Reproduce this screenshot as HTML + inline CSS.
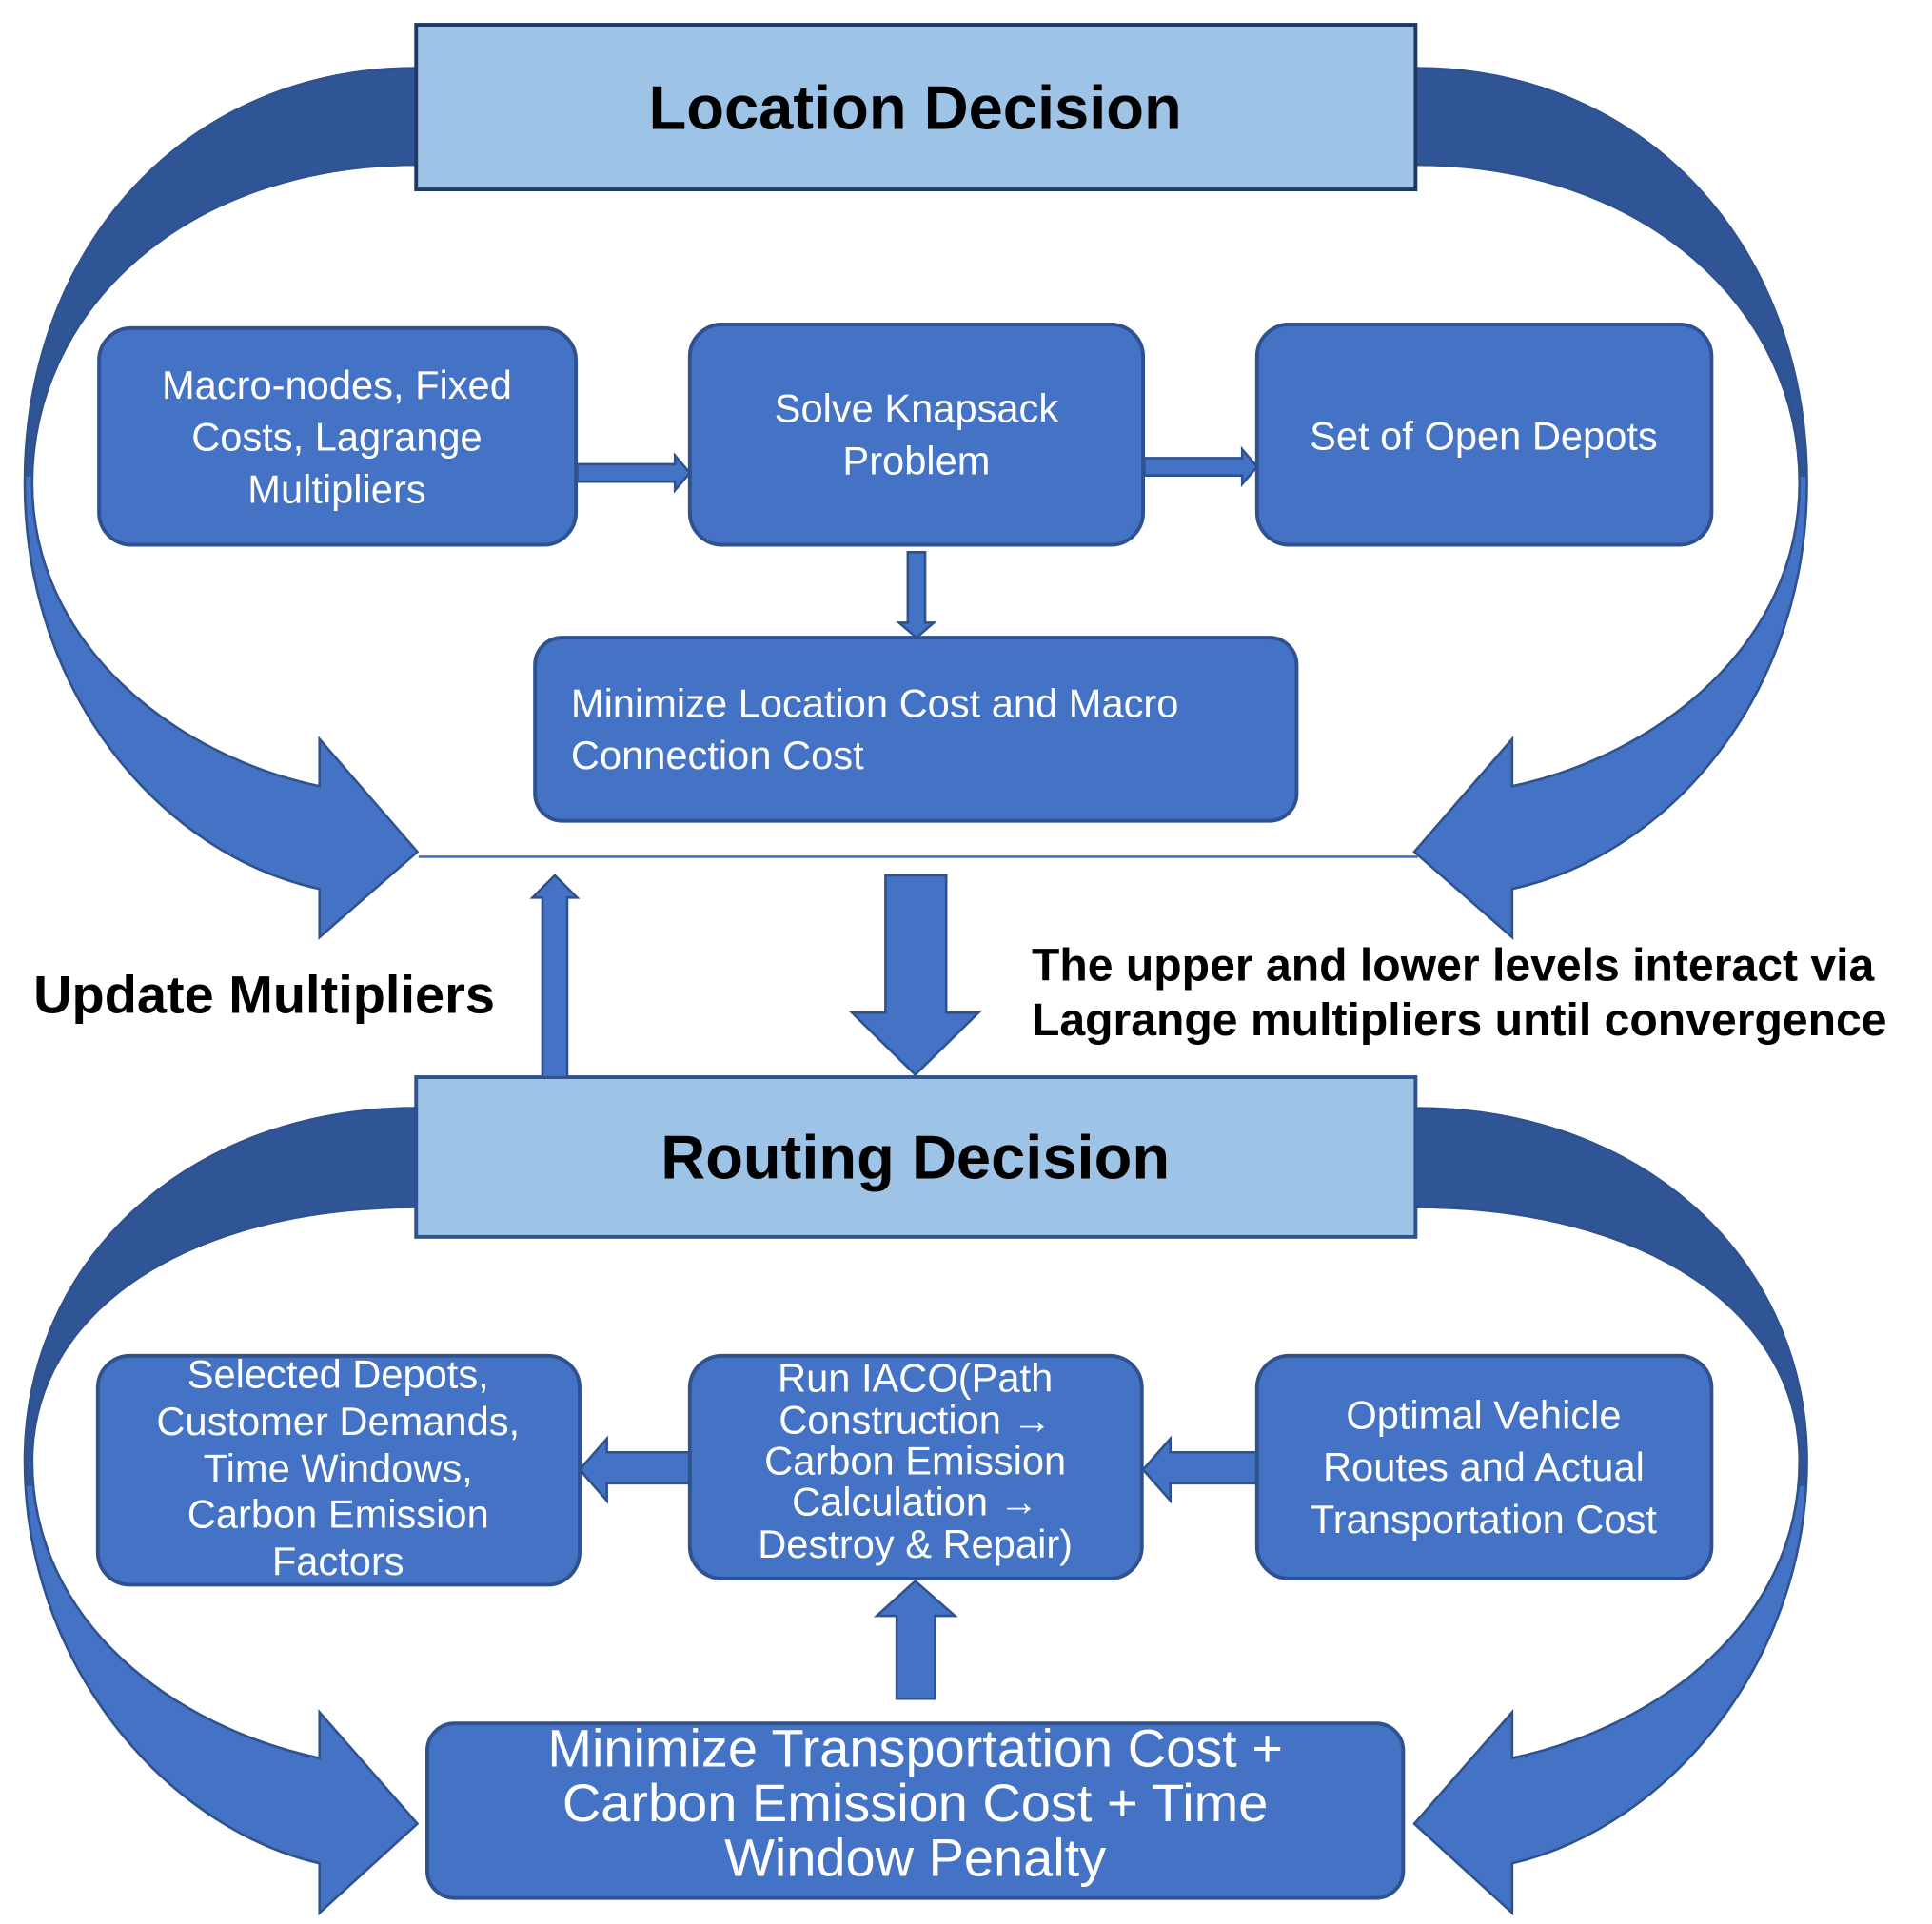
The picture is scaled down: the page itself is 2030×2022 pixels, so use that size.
<!DOCTYPE html>
<html><head><meta charset="utf-8"><style>
html,body{margin:0;padding:0;background:#fff;}
svg{display:block;}
text{font-family:"Liberation Sans",sans-serif;}
.w{fill:#fff;font-size:32px;text-anchor:middle;}
.b{fill:#4472C4;stroke:#2F528F;stroke-width:3;}
</style></head><body>
<svg width="2030" height="2022" viewBox="0 0 1560 1554" preserveAspectRatio="none" xmlns="http://www.w3.org/2000/svg">
<defs>
<linearGradient id="g1" x1="0" y1="0" x2="0" y2="1" gradientUnits="objectBoundingBox">
<stop offset="0" stop-color="#2F5597"/><stop offset="0.47" stop-color="#2F5597"/><stop offset="0.47" stop-color="#4472C4"/><stop offset="1" stop-color="#4472C4"/>
</linearGradient>
</defs>
<g stroke="#2F528F" stroke-width="2" fill="url(#g1)">
<path d="M336,55 C150,55 20,200 20,390 C20,560 130,690 258,718 L258,757 L337,688 L258,597 L258,635 C140,610 26,520 26,390 C26,250 150,133 336,133 Z"/>
<path transform="translate(1479,0) scale(-1,1)" d="M336,55 C150,55 20,200 20,390 C20,560 130,690 258,718 L258,757 L337,688 L258,597 L258,635 C140,610 26,520 26,390 C26,250 150,133 336,133 Z"/>
<path d="M336,895 C150,895 20,1020 20,1180 C20,1340 130,1475 258,1505 L258,1545 L337,1473 L258,1383 L258,1420 C140,1395 26,1310 26,1180 C26,1060 150,975 336,975 Z"/>
<path transform="translate(1479,0) scale(-1,1)" d="M336,895 C150,895 20,1020 20,1180 C20,1340 130,1475 258,1505 L258,1545 L337,1473 L258,1383 L258,1420 C140,1395 26,1310 26,1180 C26,1060 150,975 336,975 Z"/>
</g>
<rect x="336" y="20" width="807" height="133" fill="#9DC3E6" stroke="#203864" stroke-width="3"/>
<text x="739" y="104" text-anchor="middle" font-size="50" font-weight="bold" fill="#000">Location Decision</text>
<rect x="336" y="870" width="807" height="129" fill="#9DC3E6" stroke="#2F528F" stroke-width="3"/>
<text x="739" y="952" text-anchor="middle" font-size="50" font-weight="bold" fill="#000">Routing Decision</text>

<rect class="b" x="80" y="265" width="385" height="175" rx="26"/>
<text class="w" x="272" y="322">Macro-nodes, Fixed</text>
<text class="w" x="272" y="364">Costs, Lagrange</text>
<text class="w" x="272" y="406">Multipliers</text>
<rect class="b" x="557" y="262" width="366" height="178" rx="26"/>
<text class="w" x="740" y="341">Solve Knapsack</text>
<text class="w" x="740" y="383">Problem</text>
<rect class="b" x="1015" y="262" width="367" height="178" rx="26"/>
<text class="w" x="1198" y="363">Set of Open Depots</text>
<rect class="b" x="432" y="515" width="615" height="148" rx="22"/>
<text class="w" x="461" y="579" style="text-anchor:start">Minimize Location Cost and Macro</text>
<text class="w" x="461" y="621" style="text-anchor:start">Connection Cost</text>

<g fill="#4472C4" stroke="#2F528F" stroke-width="2">
<path d="M466,375 L545,375 L545,368 L557,382 L545,396 L545,389 L466,389 Z"/>
<path d="M924,370 L1003,370 L1003,363 L1015,377 L1003,391 L1003,384 L924,384 Z"/>
<path d="M733,446 L747,446 L747,503 L754,503 L740,515 L726,503 L733,503 Z"/>
<path d="M438,870 L438,725 L430,725 L448,707 L466,725 L458,725 L458,870 Z"/>
<path d="M715,707 L764,707 L764,818 L790,818 L739,868 L688,818 L715,818 Z"/>
<path d="M557,1173 L490,1173 L490,1162 L468,1187 L490,1212 L490,1198 L557,1198 Z"/>
<path d="M1015,1173 L945,1173 L945,1162 L923,1187 L945,1212 L945,1198 L1015,1198 Z"/>
<path d="M724,1372 L724,1305 L708,1305 L739,1277 L771,1305 L755,1305 L755,1372 Z"/>
</g>
<line x1="338" y1="692" x2="1145" y2="692" stroke="#4472C4" stroke-width="2"/>

<text x="27" y="818" font-size="43" font-weight="bold" fill="#000">Update Multipliers</text>
<text x="833" y="792" font-size="37" font-weight="bold" fill="#000">The upper and lower levels interact via</text>
<text x="833" y="836" font-size="37" font-weight="bold" fill="#000">Lagrange multipliers until convergence</text>

<rect class="b" x="79" y="1095" width="389" height="185" rx="26"/>
<text class="w" x="273" y="1121">Selected Depots,</text>
<text class="w" x="273" y="1159">Customer Demands,</text>
<text class="w" x="273" y="1197">Time Windows,</text>
<text class="w" x="273" y="1234">Carbon Emission</text>
<text class="w" x="273" y="1272">Factors</text>
<rect class="b" x="557" y="1095" width="365" height="180" rx="26"/>
<text class="w" x="739" y="1124">Run IACO(Path</text>
<text class="w" x="739" y="1158">Construction →</text>
<text class="w" x="739" y="1191">Carbon Emission</text>
<text class="w" x="739" y="1224">Calculation →</text>
<text class="w" x="739" y="1258">Destroy &amp; Repair)</text>
<rect class="b" x="1015" y="1095" width="367" height="180" rx="26"/>
<text class="w" x="1198" y="1154">Optimal Vehicle</text>
<text class="w" x="1198" y="1196">Routes and Actual</text>
<text class="w" x="1198" y="1238">Transportation Cost</text>
<rect class="b" x="345" y="1392" width="788" height="141" rx="22"/>
<text class="w" style="font-size:43px" x="739" y="1427">Minimize Transportation Cost +</text>
<text class="w" style="font-size:43px" x="739" y="1471">Carbon Emission Cost + Time</text>
<text class="w" style="font-size:43px" x="739" y="1515">Window Penalty</text>
</svg>
</body></html>
